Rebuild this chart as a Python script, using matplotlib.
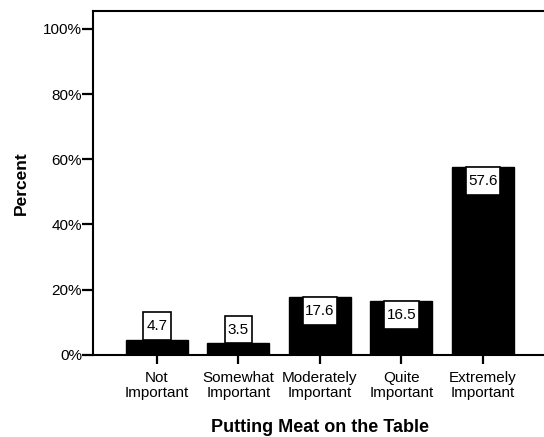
import numpy as np
import matplotlib
matplotlib.use("Agg")
import matplotlib.pyplot as plt
from matplotlib.patches import Rectangle
from matplotlib.ticker import FuncFormatter

plt.rcParams['font.family'] = ['Liberation Sans', 'DejaVu Sans']

# data
categories = ["Not\nImportant", "Somewhat\nImportant", "Moderately\nImportant",
              "Quite\nImportant", "Extremely\nImportant"]
percents = [4.7, 3.5, 17.6, 16.5, 57.6]
y_ticks = [0, 20, 40, 60, 80, 100]

fig = plt.figure(figsize=(5.44, 4.37), dpi=100)
ax = fig.add_axes([0.171, 0.188, 0.829, 0.787])

x = np.arange(len(categories))
ax.bar(x, percents, width=0.76, color='black', edgecolor='black')

# value labels in white boxes (above short bars, inside tall ones)
box_h = 8.5
for xi, v in zip(x, percents):
    lab = "%.1f" % v
    w = 0.08 * len(lab) + 0.1
    y0 = v if v < 10 else v - box_h
    ax.add_patch(Rectangle((xi - w / 2, y0), w, box_h, facecolor='white',
                           edgecolor='black', linewidth=1.2, zorder=3))
    ax.text(xi, y0 + box_h / 2, lab, ha='center', va='center', fontsize=11, zorder=4)

ax.set_xlim(-0.785, 4.75)
ax.set_ylim(0, 105.5)
ax.set_xticks(x)
ax.set_xticklabels(categories, fontsize=11, linespacing=1.1)
ax.set_yticks(y_ticks)
ax.yaxis.set_major_formatter(FuncFormatter(lambda v, p: "%d%%" % v))
ax.tick_params(axis='y', labelsize=11, length=8, width=1.6, direction='out', pad=0)
ax.tick_params(axis='x', length=6.5, width=1.6, direction='out', pad=5)

for s in ['left', 'bottom', 'top']:
    ax.spines[s].set_linewidth(1.5)
ax.spines['right'].set_visible(False)

ax.set_ylabel("Percent", fontsize=12.5, fontweight='bold', labelpad=10)
fig.text(0.588, 0.002, "Putting Meat on the Table", ha='center', va='bottom',
         fontsize=13, fontweight='bold')

fig.savefig("out.png", dpi=100)
